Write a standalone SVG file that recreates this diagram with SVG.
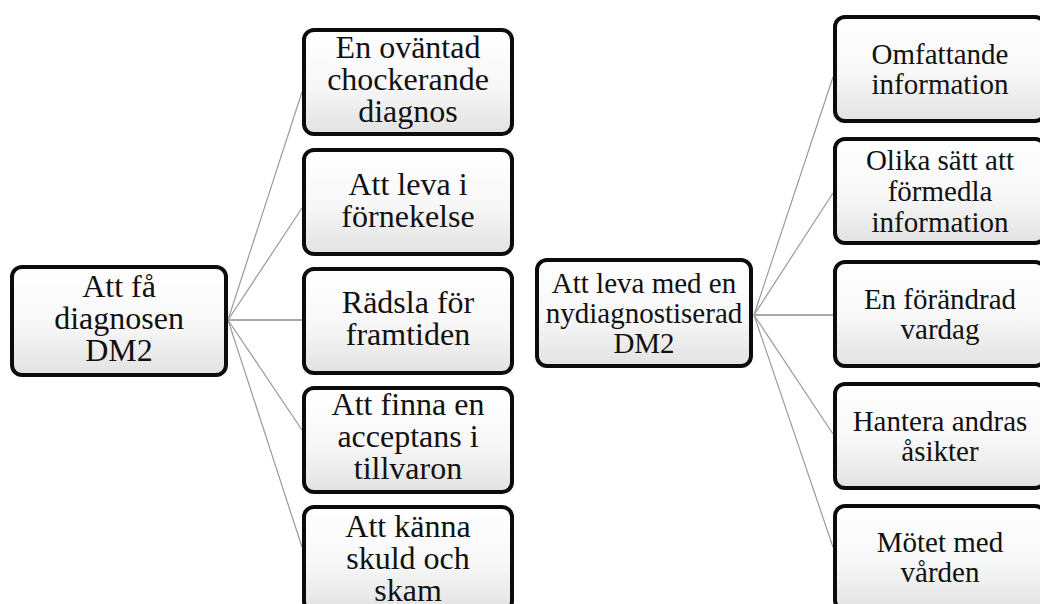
<svg xmlns="http://www.w3.org/2000/svg" width="1040" height="604" viewBox="0 0 1040 604">
<defs>
<linearGradient id="g" x1="0" y1="0" x2="0" y2="1">
<stop offset="0" stop-color="#ffffff"/>
<stop offset="0.55" stop-color="#f7f7f7"/>
<stop offset="1" stop-color="#e2e2e2"/>
</linearGradient>
</defs>
<style>
.box{fill:url(#g);stroke:#0c0c0c;stroke-width:4}
.t{fill:#111;text-anchor:middle}
.l{font-size:32px}
.r{font-size:29px}
.c{stroke:#9a9a9a;stroke-width:1.2;fill:none}
.h{stroke:#a8a8a8;stroke-width:2;fill:none}
</style>
<rect width="1040" height="604" fill="#ffffff"/>
<g id="connectors">
<line class="c" x1="228" y1="320" x2="302" y2="92"/>
<line class="c" x1="228" y1="320" x2="302" y2="208"/>
<line class="h" x1="228" y1="320" x2="302" y2="320"/>
<line class="c" x1="228" y1="320" x2="302" y2="430"/>
<line class="c" x1="228" y1="320" x2="302" y2="547"/>
<line class="c" x1="754" y1="315" x2="833" y2="77"/>
<line class="c" x1="754" y1="315" x2="833" y2="193"/>
<line class="h" x1="754" y1="315" x2="833" y2="315"/>
<line class="c" x1="754" y1="315" x2="833" y2="434"/>
<line class="c" x1="754" y1="315" x2="833" y2="547"/>
</g>
<g id="root-left">
<rect class="box" x="12" y="267" width="214" height="108" rx="10"/>
<text class="t l" font-family="Liberation Serif" x="119" y="297">Att få</text>
<text class="t l" font-family="Liberation Serif" x="119" y="329">diagnosen</text>
<text class="t l" font-family="Liberation Serif" x="119" y="361">DM2</text>
</g>
<g id="left-1">
<rect class="box" x="304" y="30" width="208" height="104" rx="10"/>
<text class="t l" font-family="Liberation Serif" x="408" y="58">En oväntad</text>
<text class="t l" font-family="Liberation Serif" x="408" y="90">chockerande</text>
<text class="t l" font-family="Liberation Serif" x="408" y="122">diagnos</text>
</g>
<g id="left-2">
<rect class="box" x="304" y="150" width="208" height="104" rx="10"/>
<text class="t l" font-family="Liberation Serif" x="408" y="195">Att leva i</text>
<text class="t l" font-family="Liberation Serif" x="408" y="227">förnekelse</text>
</g>
<g id="left-3">
<rect class="box" x="304" y="269" width="208" height="104" rx="10"/>
<text class="t l" font-family="Liberation Serif" x="408" y="313">Rädsla för</text>
<text class="t l" font-family="Liberation Serif" x="408" y="345">framtiden</text>
</g>
<g id="left-4">
<rect class="box" x="304" y="388" width="208" height="104" rx="10"/>
<text class="t l" font-family="Liberation Serif" x="408" y="415">Att finna en</text>
<text class="t l" font-family="Liberation Serif" x="408" y="447">acceptans i</text>
<text class="t l" font-family="Liberation Serif" x="408" y="479">tillvaron</text>
</g>
<g id="left-5">
<rect class="box" x="304" y="507" width="208" height="104" rx="10"/>
<text class="t l" font-family="Liberation Serif" x="408" y="537">Att känna</text>
<text class="t l" font-family="Liberation Serif" x="408" y="569">skuld och</text>
<text class="t l" font-family="Liberation Serif" x="408" y="601">skam</text>
</g>
<g id="root-right">
<rect class="box" x="537" y="260" width="214" height="106" rx="10"/>
<text class="t r" font-family="Liberation Serif" x="644" y="293">Att leva med en</text>
<text class="t r" font-family="Liberation Serif" x="644" y="323">nydiagnostiserad</text>
<text class="t r" font-family="Liberation Serif" x="644" y="353">DM2</text>
</g>
<g id="right-1">
<rect class="box" x="835" y="17" width="210" height="104" rx="10"/>
<text class="t r" font-family="Liberation Serif" x="940" y="64">Omfattande</text>
<text class="t r" font-family="Liberation Serif" x="940" y="94">information</text>
</g>
<g id="right-2">
<rect class="box" x="835" y="139" width="210" height="104" rx="10"/>
<text class="t r" font-family="Liberation Serif" x="940" y="170">Olika sätt att</text>
<text class="t r" font-family="Liberation Serif" x="940" y="201">förmedla</text>
<text class="t r" font-family="Liberation Serif" x="940" y="232">information</text>
</g>
<g id="right-3">
<rect class="box" x="835" y="262" width="210" height="104" rx="10"/>
<text class="t r" font-family="Liberation Serif" x="940" y="309">En förändrad</text>
<text class="t r" font-family="Liberation Serif" x="940" y="339">vardag</text>
</g>
<g id="right-4">
<rect class="box" x="835" y="384" width="210" height="104" rx="10"/>
<text class="t r" font-family="Liberation Serif" x="940" y="431">Hantera andras</text>
<text class="t r" font-family="Liberation Serif" x="940" y="461">åsikter</text>
</g>
<g id="right-5">
<rect class="box" x="835" y="506" width="210" height="104" rx="10"/>
<text class="t r" font-family="Liberation Serif" x="940" y="552">Mötet med</text>
<text class="t r" font-family="Liberation Serif" x="940" y="582">vården</text>
</g>
</svg>
